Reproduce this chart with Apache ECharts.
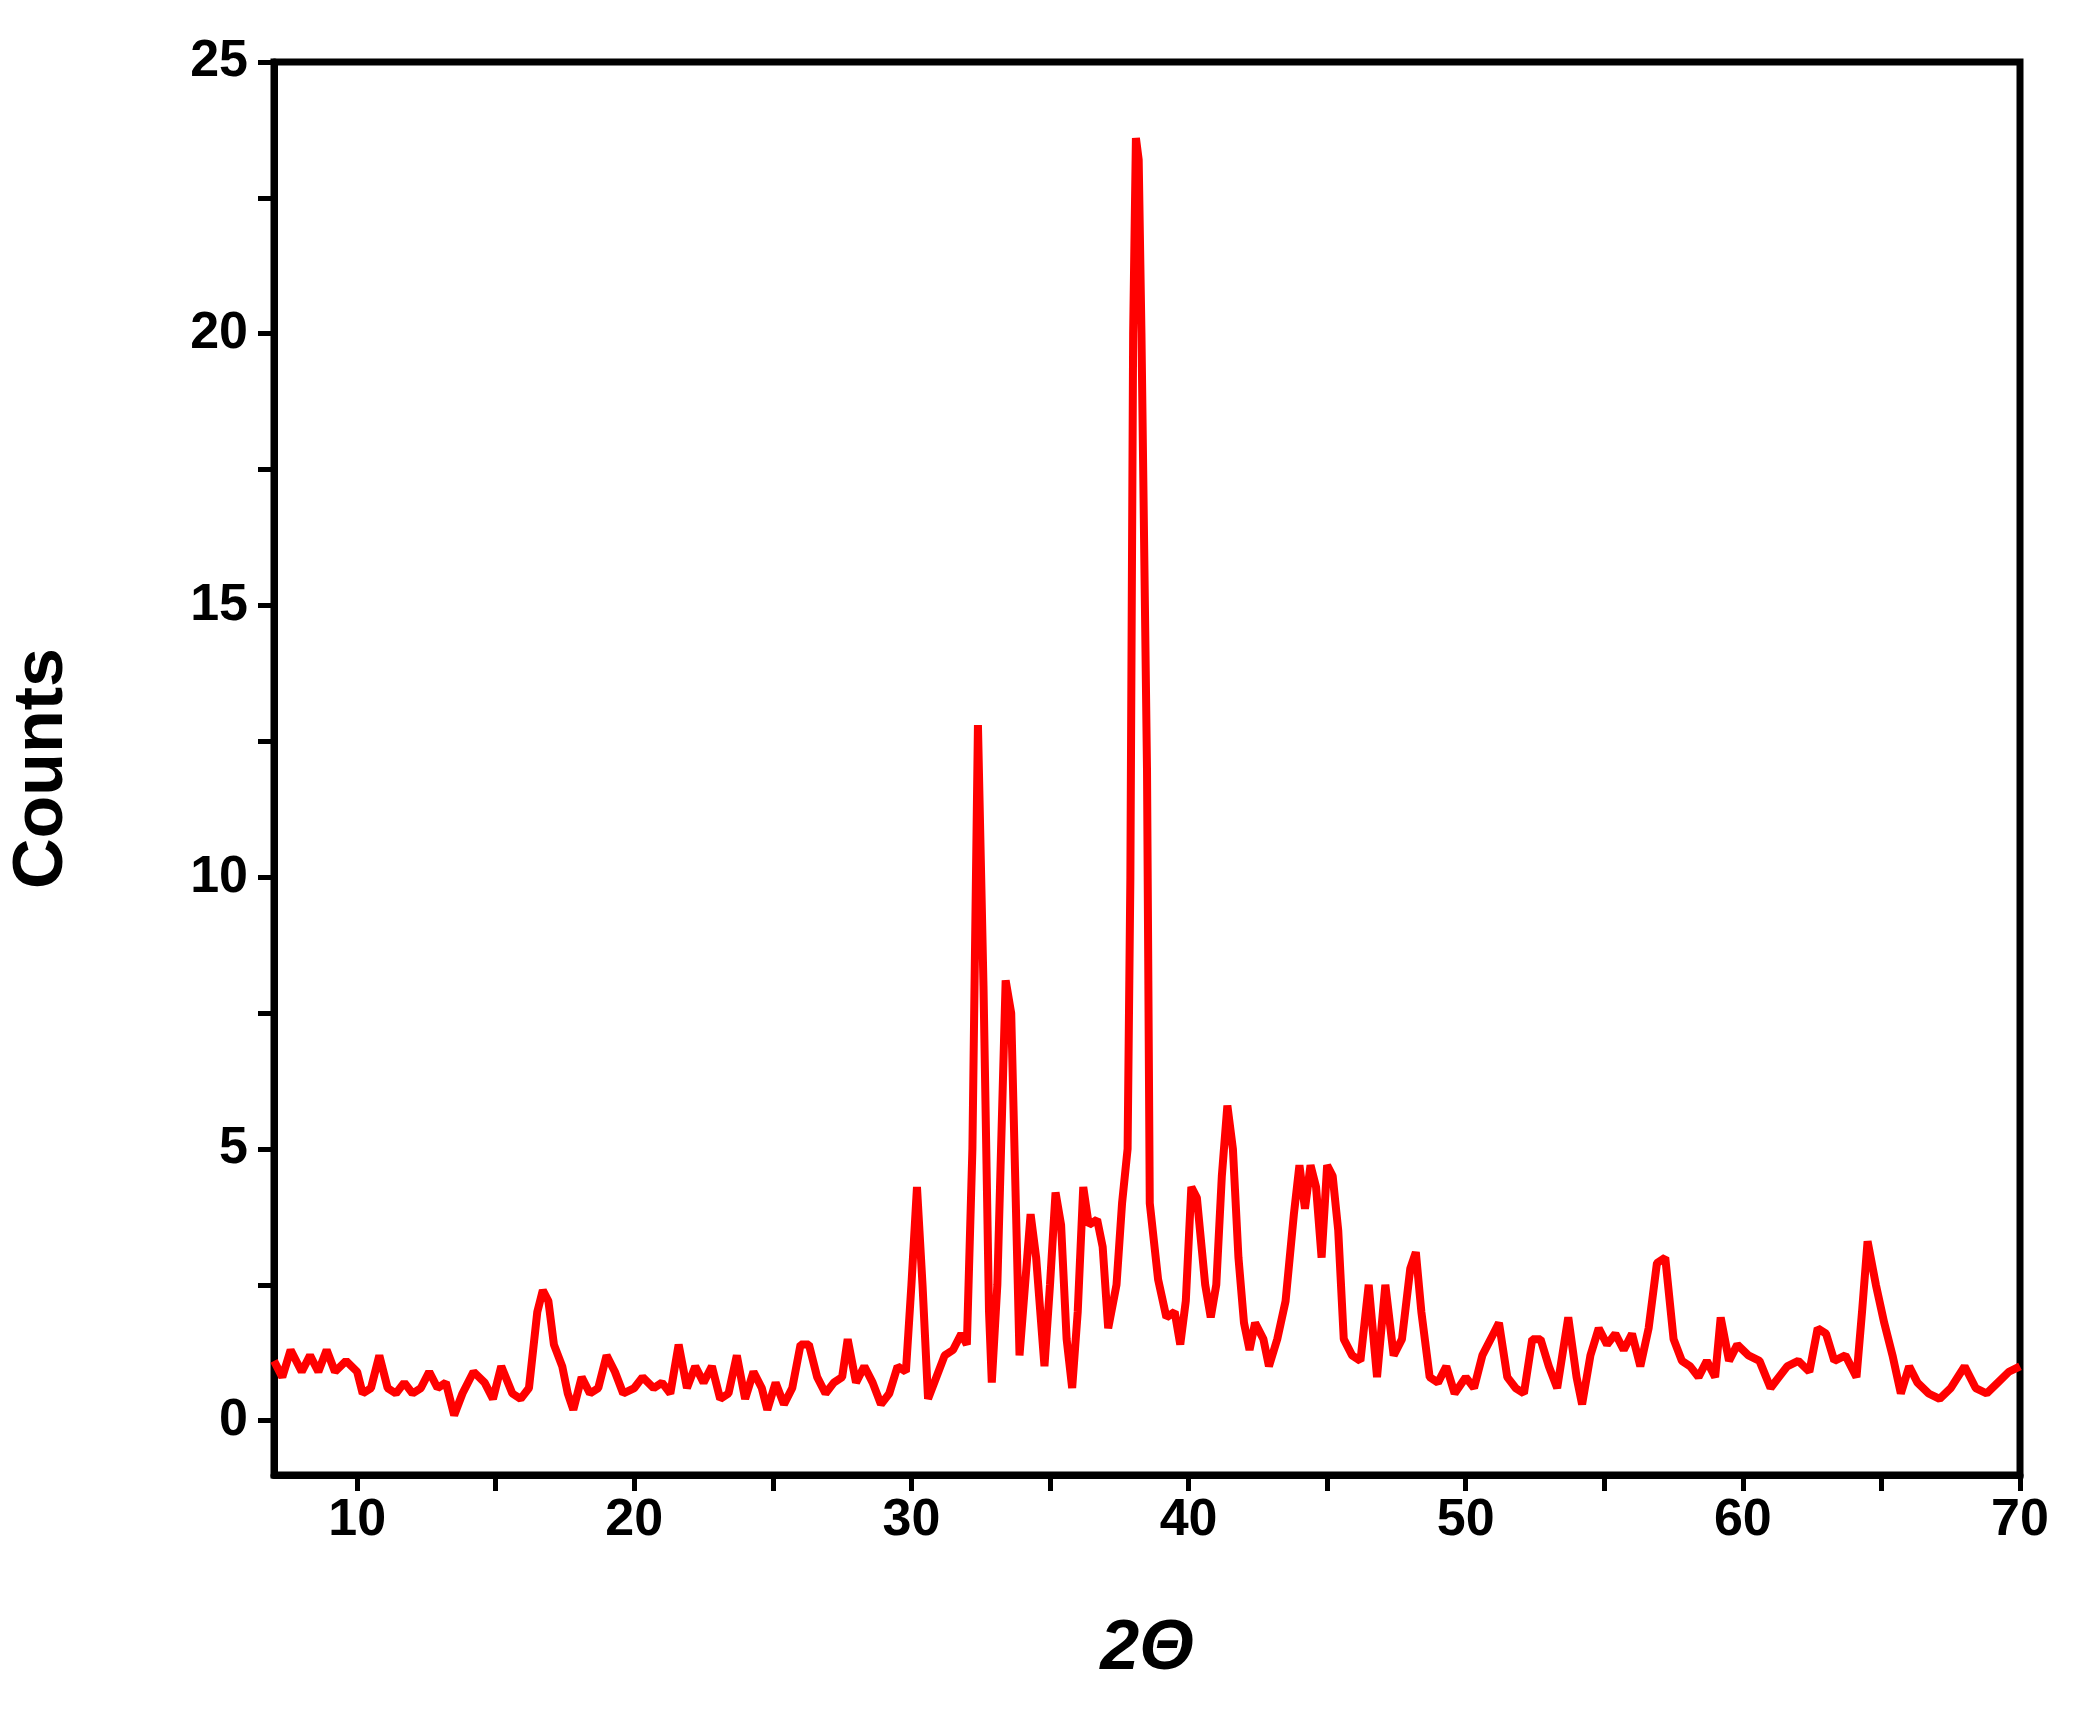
<!DOCTYPE html>
<html><head><meta charset="utf-8">
<script src="https://cdn.jsdelivr.net/npm/echarts@6/dist/echarts.min.js"></script>
<style>html,body{margin:0;padding:0;background:#fff}#c{width:2078px;height:1715px}</style>
</head><body><div id="c"></div>
<script>
const twoTheta = [7,7.3,7.6,8,8.3,8.6,8.9,9.2,9.6,10,10.2,10.5,10.8,11.1,11.4,11.7,12,12.3,12.6,12.9,13.2,13.5,13.8,14.2,14.6,14.9,15.2,15.6,15.9,16.2,16.5,16.7,16.9,17.1,17.4,17.6,17.8,18.1,18.4,18.7,19,19.3,19.6,20,20.3,20.7,21,21.3,21.6,21.9,22.2,22.5,22.8,23.1,23.4,23.7,24,24.3,24.6,24.8,25.1,25.4,25.7,26,26.3,26.6,26.9,27.2,27.5,27.7,28,28.3,28.6,28.9,29.2,29.5,29.8,30,30.2,30.4,30.6,30.9,31.2,31.5,31.8,32,32.2,32.4,32.6,32.8,32.9,33.1,33.4,33.6,33.9,34.1,34.3,34.5,34.8,35,35.2,35.4,35.6,35.8,36,36.2,36.4,36.7,36.9,37.1,37.4,37.6,37.8,37.9,38,38.1,38.2,38.3,38.5,38.6,38.9,39.2,39.5,39.7,39.9,40.1,40.3,40.6,40.8,41,41.2,41.4,41.6,41.8,42,42.2,42.4,42.7,42.9,43.2,43.5,43.8,44,44.2,44.4,44.6,44.8,45,45.2,45.4,45.6,45.9,46.2,46.5,46.8,47.1,47.4,47.7,48,48.2,48.4,48.7,49,49.3,49.6,50,50.3,50.6,51,51.2,51.5,51.8,52.1,52.4,52.7,53,53.3,53.7,54,54.2,54.5,54.8,55.1,55.4,55.7,56,56.3,56.6,56.9,57.2,57.5,57.8,58.1,58.4,58.7,59,59.2,59.5,59.8,60.2,60.6,61,61.3,61.6,62,62.4,62.7,63,63.3,63.7,64.1,64.3,64.5,64.8,65.1,65.4,65.7,66,66.3,66.7,67.1,67.5,68,68.4,68.8,69.2,69.6,70];
const counts = [1.1,0.8,1.3,0.9,1.2,0.9,1.3,0.9,1.1,0.9,0.5,0.6,1.2,0.6,0.5,0.7,0.5,0.6,0.9,0.6,0.7,0.1,0.5,0.9,0.7,0.4,1.0,0.5,0.4,0.6,2.0,2.4,2.2,1.4,1.0,0.5,0.2,0.8,0.5,0.6,1.2,0.9,0.5,0.6,0.8,0.6,0.7,0.5,1.4,0.6,1.0,0.7,1.0,0.4,0.5,1.2,0.4,0.9,0.6,0.2,0.7,0.3,0.6,1.4,1.4,0.8,0.5,0.7,0.8,1.5,0.7,1.0,0.7,0.3,0.5,1.0,0.9,2.5,4.3,2.5,0.4,0.8,1.2,1.3,1.6,1.4,5.0,12.8,8.0,2.0,0.7,2.5,8.1,7.5,1.2,2.5,3.8,3.0,1.0,2.5,4.2,3.6,1.5,0.6,2.0,4.3,3.6,3.7,3.2,1.7,2.5,4.0,5.0,10,20,23.6,23.2,20,12,4,2.6,1.9,2.0,1.4,2.2,4.3,4.1,2.5,1.9,2.5,4.5,5.8,5.0,3.0,1.8,1.3,1.8,1.5,1.0,1.5,2.2,3.8,4.7,3.9,4.7,4.3,3.0,4.7,4.5,3.5,1.5,1.2,1.1,2.5,0.8,2.5,1.2,1.5,2.8,3.1,2.0,0.8,0.7,1.0,0.5,0.8,0.6,1.2,1.6,1.8,0.8,0.6,0.5,1.5,1.5,1.0,0.6,1.9,0.8,0.3,1.2,1.7,1.4,1.6,1.3,1.6,1.0,1.7,2.9,3.0,1.5,1.1,1.0,0.8,1.1,0.8,1.9,1.1,1.4,1.2,1.1,0.6,0.8,1.0,1.1,0.9,1.7,1.6,1.1,1.2,0.8,2.0,3.3,2.5,1.8,1.2,0.5,1.0,0.7,0.5,0.4,0.6,1.0,0.6,0.5,0.7,0.9,1.0];
const xLabels = [10,20,30,40,50,60,70];
const xTicks = [10,15,20,25,30,35,40,45,50,55,60,65,70];
const yLabels = [0,5,10,15,20,25];
const yTicks = [0,2.5,5,7.5,10,12.5,15,17.5,20,22.5,25];
const font = 'Liberation Sans, Arial, sans-serif';
const chart = echarts.init(document.getElementById('c'));
chart.setOption({
  animation:false,
  grid:{left:274,right:58,top:62,bottom:240,show:true,borderColor:'#000',borderWidth:7},
  xAxis:{type:'value',min:7,max:70,
    name:'2Θ',nameLocation:'middle',nameGap:140,
    nameTextStyle:{fontFamily:font,fontSize:70,fontWeight:'bold',fontStyle:'italic',color:'#000'},
    axisLine:{onZero:false,lineStyle:{color:'#000',width:7}},
    axisTick:{customValues:xTicks,length:16,lineStyle:{width:5,color:'#000'}},
    axisLabel:{customValues:xLabels,fontFamily:font,fontSize:52,fontWeight:'bold',color:'#000',margin:20},
    splitLine:{show:false}},
  yAxis:{type:'value',min:-1,max:25,
    name:'Counts',nameLocation:'middle',nameGap:196,
    nameTextStyle:{fontFamily:font,fontSize:70,fontWeight:'bold',color:'#000'},
    axisLine:{onZero:false,lineStyle:{color:'#000',width:7}},
    axisTick:{customValues:yTicks,length:16,lineStyle:{width:5,color:'#000'}},
    axisLabel:{customValues:yLabels,fontFamily:font,fontSize:52,fontWeight:'bold',color:'#000',margin:26},
    splitLine:{show:false}},
  series:[{type:'line',data:twoTheta.map((x,i)=>[x,counts[i]]),showSymbol:false,
    lineStyle:{color:'#ff0000',width:8},itemStyle:{color:'#ff0000'}}]
});
</script></body></html>
